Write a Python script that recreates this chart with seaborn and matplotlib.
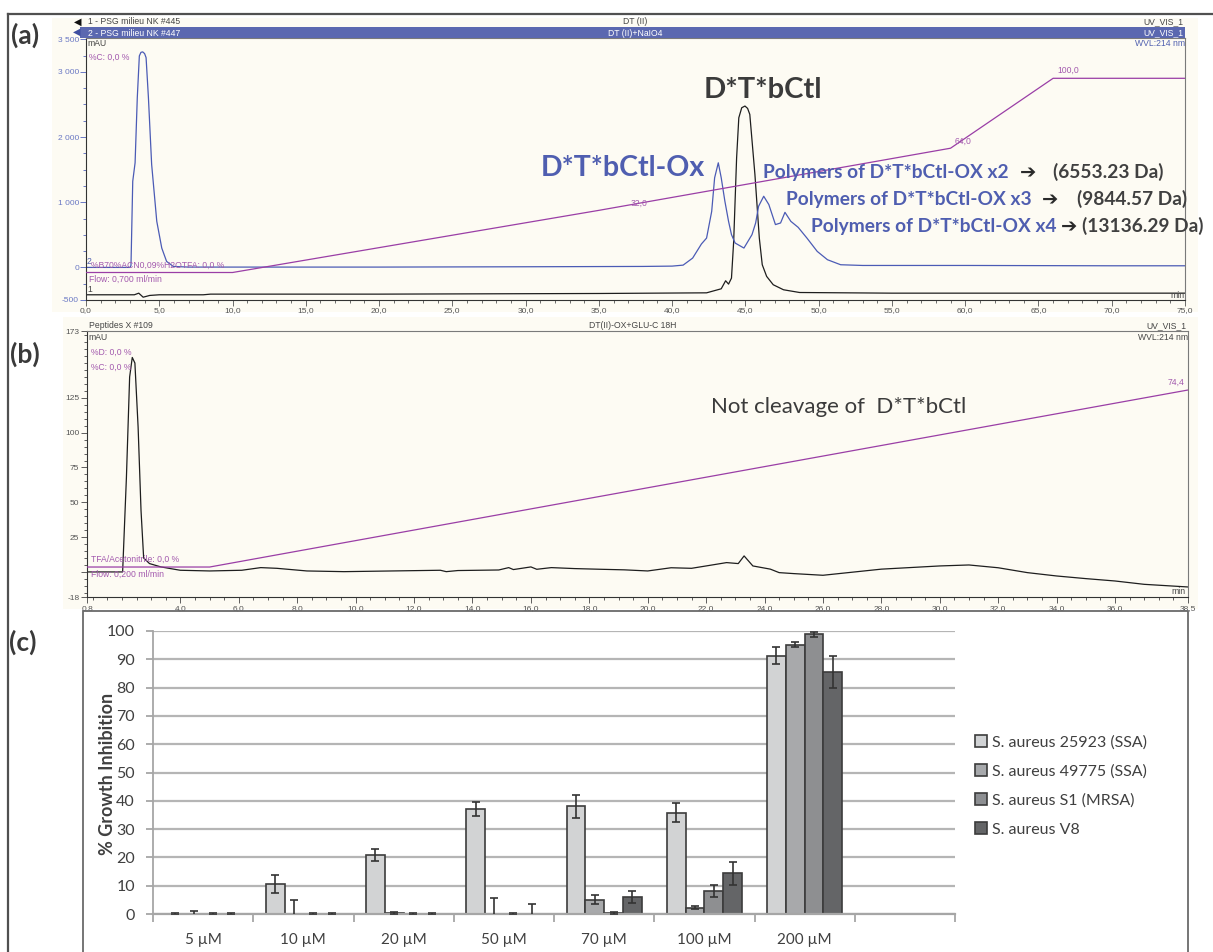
import numpy as np
import pandas as pd
import matplotlib
matplotlib.use("Agg")
import matplotlib.pyplot as plt
import seaborn as sns
from matplotlib.patches import Rectangle, Patch
from matplotlib.lines import Line2D
from matplotlib.ticker import MultipleLocator

W, H = 1213, 952

# ==============================
# Data
# ==============================

# (a) HPLC: trace 2 = DT(II)+NaIO4 (blue), trace 1 = DT(II) (black), time in min, signal in mAU
a_ox_time = [0.0, 3.0, 3.07, 3.19, 3.35, 3.5, 3.64, 3.75, 3.87, 4.0, 4.1, 4.26, 4.48, 4.83, 5.17,
             5.5, 5.96, 7.0, 10.0, 20.0, 30.0, 38.0, 40.0, 40.75, 41.4, 42.0, 42.35, 42.7, 42.9,
             43.15, 43.35, 43.6, 43.85, 44.05, 44.3, 44.9, 45.45, 45.7, 45.9, 46.25, 46.6, 47.05,
             47.4, 47.7, 48.1, 48.6, 49.2, 49.9, 50.6, 51.5, 53.0, 60.0, 70.0, 75.0]
a_ox_mau = [0, 0, 30, 1322, 1605, 2604, 3245, 3300, 3307, 3280, 3219, 2604, 1580, 707, 297,
            92, 15, 5, 5, 5, 10, 15, 20, 35, 143, 360, 450, 860, 1375,
            1605, 1375, 1015, 707, 503, 374, 297, 503, 682, 938, 1092, 964, 657,
            682, 845, 707, 615, 450, 246, 118, 41, 30, 30, 25, 25]

a_native_time = [0.0, 3.3, 3.6, 3.9, 4.35, 5.0, 8.0, 8.5, 20.0, 35.0, 42.35, 43.35, 43.65, 43.85,
                 44.05, 44.2, 44.4, 44.55, 44.75, 44.97, 45.15, 45.3, 45.65, 45.95, 46.15, 46.45,
                 46.9, 47.6, 48.7, 55.0, 75.0]
a_native_mau = [-420, -420, -395, -457, -430, -420, -420, -410, -410, -400, -390, -328, -205, -256,
                -164, 400, 1680, 2296, 2450, 2476, 2440, 2348, 1425, 450, 41, -138,
                -266, -343, -385, -395, -395]

a_grad_time = [0, 10, 35, 59, 66, 75]
a_grad_pct = [0, 0, 32, 64, 100, 100]

a_xtick_vals = [0, 5, 10, 15, 20, 25, 30, 35, 40, 45, 50, 55, 60, 65, 70, 75]
a_xtick_labels = ["0,0", "5,0", "10,0", "15,0", "20,0", "25,0", "30,0", "35,0", "40,0",
                  "45,0", "50,0", "55,0", "60,0", "65,0", "70,0", "75,0"]
a_ytick_vals = [-500, 0, 1000, 2000, 3000, 3500]
a_ytick_labels = ["-500", "0", "1 000", "2 000", "3 000", "3 500"]

# (b) HPLC after GLU-C digestion
b_time = [0.8, 2.02, 2.15, 2.26, 2.35, 2.44, 2.55, 2.65, 2.74, 2.94, 3.33, 3.99, 5.0, 6.1, 6.75,
          7.3, 8.33, 9.6, 12.9, 13.1, 13.5, 14.9, 15.24, 15.4, 16.0, 16.2, 16.7, 17.5, 18.4, 19.2,
          20.0, 20.8, 21.5, 22.0, 22.7, 23.1, 23.3, 23.6, 24.2, 24.5, 25.0, 26.0, 28.0, 30.0,
          31.0, 32.0, 33.0, 34.0, 35.0, 36.0, 37.0, 38.5]
b_mau = [0, 0, 68, 140, 154, 150, 104, 44, 10, 6, 3.6, 1.2, 0.7, 1.2, 3.1,
         2.6, 0.7, 0.2, 1.2, 0.2, 1.0, 1.4, 3.1, 1.7, 3.6, 1.9, 3.1, 2.4, 1.9, 1.5,
         0.7, 3.0, 2.6, 4.3, 6.7, 6.0, 11.5, 4.3, 2.0, -0.5, -1.2, -2.4, 2.0, 4.3,
         5.0, 3.0, -0.5, -2.9, -4.8, -6.5, -8.9, -10.8]
b_grad_time = [0.8, 5.0, 38.5]
b_grad_pct = [0, 0, 74.4]

b_xtick_vals = [0.8, 4, 6, 8, 10, 12, 14, 16, 18, 20, 22, 24, 26, 28, 30, 32, 34, 36, 38.5]
b_xtick_labels = ["0,8", "4,0", "6,0", "8,0", "10,0", "12,0", "14,0", "16,0", "18,0", "20,0",
                  "22,0", "24,0", "26,0", "28,0", "30,0", "32,0", "34,0", "36,0", "38,5"]
b_ytick_vals = [-18, 0, 25, 50, 75, 100, 125, 173]
b_ytick_labels = ["-18", "", "25", "50", "75", "100", "125", "173"]

# (c) growth inhibition
conc_labels = ["5 µM", "10 µM", "20 µM", "50 µM", "70 µM", "100 µM", "200 µM"]
strains = ["S. aureus 25923 (SSA)", "S. aureus 49775 (SSA)", "S. aureus S1 (MRSA)", "S. aureus V8"]
inhib_25923 = [0, 10.6, 20.9, 37.2, 38.0, 35.8, 91.3]
inhib_49775 = [0, 0, 0.4, 0, 5.0, 2.2, 95.2]
inhib_s1 = [0, 0, 0, 0, 0.3, 8.2, 98.8]
inhib_v8 = [0, 0, 0, 0, 6.0, 14.4, 85.5]
err_25923 = [0.3, 3.1, 2.0, 2.4, 4.0, 3.4, 3.0]
err_49775 = [1.0, 4.8, 0.4, 5.8, 1.6, 0.6, 0.8]
err_s1 = [0.3, 0.3, 0.3, 0.3, 0.3, 2.1, 1.0]
err_v8 = [0.3, 0.3, 0.3, 3.4, 2.0, 4.0, 5.8]
bar_colors = ["#D1D3D5", "#A7A9AC", "#8D8F92", "#646567"]

# ==============================
# helpers (pixel -> figure fraction)
# ==============================
def fbox(x0, y0, x1, y1):
    return [x0 / W, 1 - y1 / H, (x1 - x0) / W, (y1 - y0) / H]

def fx(x):
    return x / W

def fy(y):
    return 1 - y / H

plt.rcParams["font.family"] = ["Liberation Sans", "DejaVu Sans"]

cream = "#FDFBF3"
purple = "#9A3EA6"
purple_txt = "#A35AAE"
blue = "#4B5BB5"
grey_txt = "#454545"

fig = plt.figure(figsize=(W / 100, H / 100), dpi=100)
fig.patch.set_facecolor("white")

fig.add_artist(Rectangle((fx(52), fy(312)), (1198 - 52) / W, (312 - 18) / H,
                         transform=fig.transFigure, facecolor=cream, edgecolor="none", zorder=-10))
fig.add_artist(Rectangle((fx(63), fy(609)), (1198 - 63) / W, (609 - 317) / H,
                         transform=fig.transFigure, facecolor=cream, edgecolor="none", zorder=-10))

def small(x, y, s, color=grey_txt, ha="left", size=6.2):
    fig.text(fx(x), fy(y), s, color=color, ha=ha, va="center", fontsize=size)

# ==============================
# (a) chromatogram
# ==============================
axa = fig.add_axes(fbox(86, 38, 1185, 300))
axa.set_facecolor("none")
sns.lineplot(x=a_native_time, y=a_native_mau, ax=axa, color="#1E1E1E", linewidth=0.9,
             estimator=None, sort=False)
sns.lineplot(x=a_ox_time, y=a_ox_mau, ax=axa, color=blue, linewidth=0.9,
             estimator=None, sort=False)
axa.set_xlim(0, 75)
axa.set_ylim(-500, 3520)
axa.set_xticks(a_xtick_vals)
axa.set_xticklabels(a_xtick_labels)
axa.set_yticks(a_ytick_vals)
axa.set_yticklabels(a_ytick_labels)
axa.xaxis.set_minor_locator(MultipleLocator(1))
axa.yaxis.set_minor_locator(MultipleLocator(250))
axa.tick_params(axis="x", which="major", length=4, width=0.6, color="#555555",
                labelsize=6, labelcolor="#555555", pad=1)
axa.tick_params(axis="x", which="minor", length=2, width=0.6, color="#555555")
axa.tick_params(axis="y", which="major", length=4, width=0.7, color="#6A78C4",
                labelsize=6, labelcolor="#6A78C4", pad=1)
axa.tick_params(axis="y", which="minor", length=2, width=0.7, color="#6A78C4")
for side in ["left", "bottom"]:
    axa.spines[side].set_color("#333333")
    axa.spines[side].set_linewidth(0.8)
for side in ["right", "top"]:
    axa.spines[side].set_color("#7A7A7A")
    axa.spines[side].set_linewidth(0.8)

axa_g = axa.twinx()
sns.lineplot(x=a_grad_time, y=a_grad_pct, ax=axa_g, color=purple, linewidth=0.9,
             estimator=None, sort=False)
axa_g.set_ylim(-14.16, 120.75)
axa_g.axis("off")

# header of (a)
fig.add_artist(Rectangle((fx(80), fy(38)), (1185 - 80) / W, 11 / H, transform=fig.transFigure,
                         facecolor="#5B68B0", edgecolor="none"))
fig.text(fx(74), fy(22), "◀", color="#111111", fontsize=7, va="center", family=["DejaVu Sans"])
fig.text(fx(73), fy(32), "◀", color="#3E4EA0", fontsize=7, va="center", family=["DejaVu Sans"])
small(88, 22, "1 - PSG milieu NK #445")
small(635, 22, "DT (II)", ha="center")
small(1183, 22, "UV_VIS_1", ha="right")
small(88, 33, "2 - PSG milieu NK #447", color="white")
small(635, 33, "DT (II)+NaIO4", color="white", ha="center")
small(1183, 33, "UV_VIS_1", color="white", ha="right")
small(87, 43, "mAU")
small(1185, 43, "WVL:214 nm", color="#5060B0", ha="right")
small(89, 57, "%C: 0,0 %", color=purple_txt)
small(87, 262, "2", color="#5060B0")
small(91, 265, "%B70%ACN0,09%H2OTFA: 0,0 %", color=purple_txt)
small(89, 279, "Flow: 0,700 ml/min", color=purple_txt)
small(87, 289, "1")
small(1185, 295, "min", ha="right")
small(631, 203, "32,0", color=purple_txt)
small(955, 141, "64,0", color=purple_txt)
small(1057, 70, "100,0", color=purple_txt)

# peak annotations
fig.text(fx(704), fy(98), "D*T*bCtl", family="Lato", weight="bold", fontsize=21,
         color="#3B3B3B", va="baseline")
fig.text(fx(541), fy(176), "D*T*bCtl-Ox", family="Lato", weight="bold", fontsize=20.5,
         color="#4F5EB0", va="baseline")
poly_rows = [(763, 178, "x2", 1020, 1053, "(6553.23 Da)"),
             (786, 205, "x3", 1042, 1077, "(9844.57 Da)"),
             (811, 232, "x4", 1061, 1082, "(13136.29 Da)")]
for x0, yb, mult, xa, xd, da in poly_rows:
    fig.text(fx(x0), fy(yb), "Polymers of D*T*bCtl-OX " + mult, family="Lato", weight="bold",
             fontsize=13.8, color="#4F5EB0", va="baseline")
    fig.text(fx(xa), fy(yb), "➔", family=["DejaVu Sans"], weight="bold", fontsize=14,
             color="#2A2A2A", va="baseline")
    fig.text(fx(xd), fy(yb), da, family="Lato", weight="bold", fontsize=13.8,
             color="#404040", va="baseline")

# ==============================
# (b) chromatogram
# ==============================
axb = fig.add_axes(fbox(87, 331, 1188, 597))
axb.set_facecolor("none")
sns.lineplot(x=b_time, y=b_mau, ax=axb, color="#1E1E1E", linewidth=0.9,
             estimator=None, sort=False)
axb.set_xlim(0.8, 38.5)
axb.set_ylim(-18, 173)
axb.set_xticks(b_xtick_vals)
axb.set_xticklabels(b_xtick_labels)
axb.set_yticks(b_ytick_vals)
axb.set_yticklabels(b_ytick_labels)
axb.xaxis.set_minor_locator(MultipleLocator(0.5))
axb.yaxis.set_minor_locator(MultipleLocator(5))
axb.tick_params(axis="both", which="major", length=4, width=0.6, color="#444444",
                labelsize=6, labelcolor="#555555", pad=1.5)
axb.tick_params(axis="both", which="minor", length=2, width=0.6, color="#444444")
for side in ["left", "bottom"]:
    axb.spines[side].set_color("#333333")
    axb.spines[side].set_linewidth(0.8)
for side in ["right", "top"]:
    axb.spines[side].set_color("#7A7A7A")
    axb.spines[side].set_linewidth(0.8)

axb_g = axb.twinx()
sns.lineplot(x=b_grad_time, y=b_grad_pct, ax=axb_g, color=purple, linewidth=0.9,
             estimator=None, sort=False)
axb_g.set_ylim(-12.6, 99.2)
axb_g.axis("off")

small(89, 326, "Peptides X #109")
small(633, 326, "DT(II)-OX+GLU-C 18H", ha="center")
small(1186, 326, "UV_VIS_1", ha="right")
small(88, 337, "mAU")
small(1188, 337, "WVL:214 nm", ha="right")
small(91, 352, "%D: 0,0 %", color=purple_txt)
small(91, 367, "%C: 0,0 %", color=purple_txt)
small(91, 559, "TFA/Acetonitrile: 0,0 %", color=purple_txt)
small(91, 574, "Flow: 0,200 ml/min", color=purple_txt)
small(1184, 382, "74,4", color=purple_txt, ha="right")
small(1186, 592, "min", ha="right")

fig.text(fx(711), fy(413), "Not cleavage of  D*T*bCtl", family="Lato", fontsize=16,
         color="#3B3B3B", va="baseline")

# ==============================
# (c) growth inhibition bars
# ==============================
df = pd.DataFrame({
    "conc": conc_labels * 4,
    "strain": np.repeat(strains, len(conc_labels)),
    "inhibition": inhib_25923 + inhib_49775 + inhib_s1 + inhib_v8,
})
err_table = {strains[0]: err_25923, strains[1]: err_49775, strains[2]: err_s1, strains[3]: err_v8}

axc = fig.add_axes(fbox(153, 631, 955, 914))
axc.set_facecolor("none")
axc.set_axisbelow(True)
axc.yaxis.grid(True, color="#B5B5B5", linewidth=1.6)
sns.barplot(data=df, x="conc", y="inhibition", hue="strain", order=conc_labels,
            hue_order=strains, palette=bar_colors, width=0.75, edgecolor="#3C3C3C",
            linewidth=1.2, errorbar=None, legend=False, ax=axc)
for strain, cont in zip(strains, axc.containers):
    errs = err_table[strain]
    xs, hs, es = [], [], []
    for bar in cont:
        xc = bar.get_x() + bar.get_width() / 2
        xs.append(xc)
        hs.append(bar.get_height())
        es.append(errs[int(round(xc))])
    axc.errorbar(xs, hs, yerr=es, fmt="none", ecolor="#333333", elinewidth=1.2,
                 capsize=2.8, capthick=1.2, zorder=5)

axc.set_xlim(-0.5, 7.5)
axc.set_ylim(0, 100)
axc.set_yticks(range(0, 101, 10))
axc.set_xlabel("")
axc.set_ylabel("% Growth Inhibition", family="Lato", weight="bold", fontsize=13, color="#404040")
axc.yaxis.set_label_coords(-0.046, 0.495)
axc.set_xticks(range(len(conc_labels)))
axc.set_xticklabels(conc_labels)
axc.set_xticks(np.arange(-0.5, 8, 1.0), minor=True)
axc.tick_params(axis="x", which="major", length=0, pad=14, labelsize=11, labelcolor="#404040")
axc.tick_params(axis="x", which="minor", length=6, width=1.3, color="#A6A6A6")
axc.tick_params(axis="y", length=5, width=1.3, color="#A6A6A6", pad=8,
                labelsize=11.5, labelcolor="#404040")
for lab in axc.get_xticklabels() + axc.get_yticklabels():
    lab.set_family("Lato")
for side in ["top", "right"]:
    axc.spines[side].set_visible(False)
axc.spines["left"].set_color("#A6A6A6")
axc.spines["left"].set_linewidth(1.3)
axc.spines["bottom"].set_color("#A6A6A6")
axc.spines["bottom"].set_linewidth(1.6)

handles = [Patch(facecolor=c, edgecolor="#3C3C3C", linewidth=1.2) for c in bar_colors]
fig.legend(handles, strains, loc="upper left", bbox_to_anchor=(fx(975), fy(735)),
           frameon=False, prop={"family": "Lato", "size": 11.5}, handlelength=0.75,
           handleheight=0.75, handletextpad=0.3, labelspacing=0.92, borderpad=0,
           borderaxespad=0, labelcolor="#404040")

# ==============================
# frames and panel letters
# ==============================
fig.add_artist(Rectangle((fx(83), fy(960)), (1188 - 83) / W, (960 - 611) / H,
                         transform=fig.transFigure, fill=False, edgecolor="#6A6A6A", linewidth=1.3))
fig.add_artist(Line2D([fx(8), fx(8)], [fy(14), fy(952)], transform=fig.transFigure,
                      color="#505050", linewidth=1.6))
fig.add_artist(Line2D([fx(8), fx(1213)], [fy(14), fy(14)], transform=fig.transFigure,
                      color="#505050", linewidth=1.6))

for lx, ly, lab in [(25, 35, "(a)"), (25, 354, "(b)"), (23, 642, "(c)")]:
    fig.text(fx(lx), fy(ly), lab, family="Lato", weight="bold", fontsize=19,
             color="#3A3A3A", ha="center", va="center")

fig.savefig("out.png", dpi=100)
